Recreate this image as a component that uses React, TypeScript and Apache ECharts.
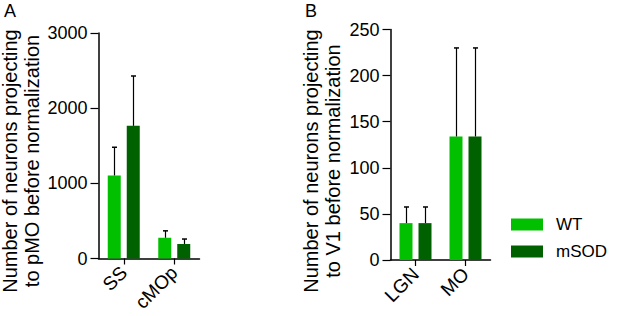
import React, { useEffect, useRef } from "react";
import * as echarts from "echarts";

const categoriesA = ["SS", "cMOp"];
const wtA = [1105, 276];
const wtErrA = [375, 92];
const msodA = [1765, 193];
const msodErrA = [663, 66];

const categoriesB = ["LGN", "MO"];
const wtB = [40, 134];
const wtErrB = [17.5, 96];
const msodB = [40, 134];
const msodErrB = [17.5, 96];

const yTicksA = { min: 0, max: 3000, interval: 1000 };
const yTicksB = { min: 0, max: 250, interval: 50 };

const seriesNames = ["WT", "mSOD"];
const titleA = ["Number of neurons projecting", "to pMO before normalization"];
const titleB = ["Number of neurons projecting", "to V1 before normalization"];
const panelLabels = ["A", "B"];

const FONT = "'Liberation Sans', Arial, Helvetica, sans-serif";
const C_WT = "#00c000";
const C_MSOD = "#006100";
const BAR_W = 13;
const BAR_GAP = 6;

function errSeries(
  name: string,
  idx: number,
  vals: number[],
  errs: number[],
  offset: number
) {
  return {
    type: "custom",
    name: name + "_err",
    xAxisIndex: idx,
    yAxisIndex: idx,
    z: 5,
    silent: true,
    encode: { x: 0, y: 1 },
    data: vals.map((v, i) => [i, v, errs[i]]),
    renderItem: (params: any, api: any) => {
      const c = api.coord([api.value(0), api.value(1)]);
      const t = api.coord([api.value(0), api.value(1) + api.value(2)]);
      const x = Math.round(c[0] + offset) + 0.5;
      return {
        type: "group",
        children: [
          {
            type: "line",
            shape: { x1: x, y1: c[1], x2: x, y2: t[1] },
            style: { stroke: "#000", lineWidth: 1.2 },
          },
          {
            type: "line",
            shape: { x1: x - 2.5, y1: t[1], x2: x + 2.5, y2: t[1] },
            style: { stroke: "#000", lineWidth: 1.5 },
          },
        ],
      };
    },
  };
}

function xAxisFor(idx: number, data: string[]) {
  return {
    type: "category",
    gridIndex: idx,
    data,
    axisLine: { show: true, lineStyle: { color: "#000", width: 1.5 } },
    axisTick: {
      show: true,
      alignWithLabel: true,
      length: 6,
      lineStyle: { color: "#000", width: 1.2 },
    },
    axisLabel: {
      rotate: 45,
      fontSize: 19,
      color: "#000",
      fontFamily: FONT,
      margin: 11,
      interval: 0,
    },
    splitLine: { show: false },
  };
}

function yAxisFor(idx: number, t: { min: number; max: number; interval: number }) {
  return {
    type: "value",
    gridIndex: idx,
    min: t.min,
    max: t.max,
    interval: t.interval,
    axisLine: { show: true, lineStyle: { color: "#000", width: 1.5 } },
    axisTick: { show: true, length: 8, lineStyle: { color: "#000", width: 1.2 } },
    axisLabel: {
      fontSize: 18,
      color: "#000",
      fontFamily: FONT,
      margin: 11,
      formatter: (v: number) => String(v),
    },
    splitLine: { show: false },
  };
}

function titleTexts(lines: string[], x1: number, x2: number, cy: number) {
  return lines.map((l, i) => ({
    type: "text",
    x: i === 0 ? x1 : x2,
    y: cy,
    rotation: Math.PI / 2,
    style: {
      text: l,
      fontSize: 20,
      fontFamily: FONT,
      fill: "#000",
      align: "center",
      verticalAlign: "middle",
    },
  }));
}

export default function App() {
  const ref = useRef<HTMLDivElement>(null);
  useEffect(() => {
    if (!ref.current) return;
    const chart = echarts.init(ref.current, undefined, { renderer: "svg" });
    const off = (BAR_W + BAR_GAP) / 2;
    const gapPct = (BAR_GAP / BAR_W) * 100 + "%";
    const option: any = {
      animation: false,
      backgroundColor: "#fff",
      textStyle: { fontFamily: FONT },
      grid: [
        { left: 98.5, top: 33, width: 101, height: 225.5, outerBoundsMode: "none" },
        { left: 390.5, top: 29.5, width: 100, height: 230.5, outerBoundsMode: "none" },
      ],
      xAxis: [xAxisFor(0, categoriesA), xAxisFor(1, categoriesB)],
      yAxis: [yAxisFor(0, yTicksA), yAxisFor(1, yTicksB)],
      legend: {
        data: seriesNames,
        orient: "vertical",
        left: 511,
        top: 216,
        padding: 0,
        itemWidth: 32,
        itemHeight: 12,
        itemGap: 10,
        icon: "rect",
        textStyle: {
          fontSize: 17,
          lineHeight: 17,
          color: "#000",
          fontFamily: FONT,
          padding: [0, 0, 0, 8],
        },
      },
      series: [
        {
          type: "bar",
          name: seriesNames[0],
          xAxisIndex: 0,
          yAxisIndex: 0,
          data: wtA,
          barWidth: BAR_W,
          barGap: gapPct,
          itemStyle: { color: C_WT },
        },
        {
          type: "bar",
          name: seriesNames[1],
          xAxisIndex: 0,
          yAxisIndex: 0,
          data: msodA,
          barWidth: BAR_W,
          barGap: gapPct,
          itemStyle: { color: C_MSOD },
        },
        {
          type: "bar",
          name: seriesNames[0],
          xAxisIndex: 1,
          yAxisIndex: 1,
          data: wtB,
          barWidth: BAR_W,
          barGap: gapPct,
          itemStyle: { color: C_WT },
        },
        {
          type: "bar",
          name: seriesNames[1],
          xAxisIndex: 1,
          yAxisIndex: 1,
          data: msodB,
          barWidth: BAR_W,
          barGap: gapPct,
          itemStyle: { color: C_MSOD },
        },
        errSeries("WT", 0, wtA, wtErrA, -off),
        errSeries("mSOD", 0, msodA, msodErrA, off),
        errSeries("WT", 1, wtB, wtErrB, -off),
        errSeries("mSOD", 1, msodB, msodErrB, off),
      ],
      graphic: [
        {
          type: "text",
          x: 4,
          y: 2,
          style: { text: panelLabels[0], fontSize: 18, fontFamily: FONT, fill: "#000" },
        },
        {
          type: "text",
          x: 305,
          y: 2,
          style: { text: panelLabels[1], fontSize: 18, fontFamily: FONT, fill: "#000" },
        },
        ...titleTexts(titleA, 10, 31.5, 161),
        ...titleTexts(titleB, 311, 332.5, 161),
      ],
    };
    chart.setOption(option);
    return () => chart.dispose();
  }, []);
  return (
    <div
      ref={ref}
      style={{ position: "fixed", left: 0, top: 0, width: 617, height: 316 }}
    />
  );
}
